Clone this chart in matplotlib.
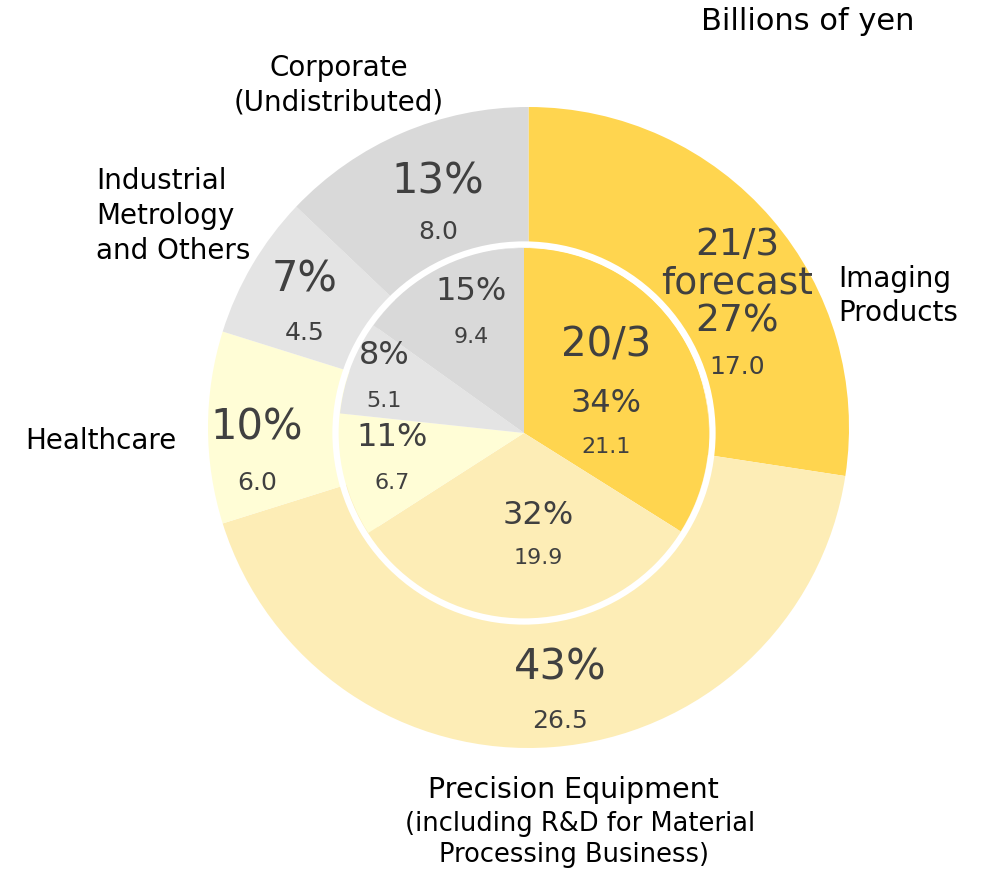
import matplotlib
matplotlib.use("Agg")
import matplotlib.pyplot as plt
from matplotlib.patches import Circle

# ---------------- data ----------------
segments = ["Imaging Products", "Precision Equipment", "Healthcare",
            "Industrial Metrology and Others", "Corporate (Undistributed)"]
forecast_21_3 = [17.0, 26.5, 6.0, 4.5, 8.0]     # outer ring (21/3 forecast)
forecast_pct = ["27%", "43%", "10%", "7%", "13%"]
actual_20_3 = [21.1, 19.9, 6.7, 5.1, 9.4]       # inner pie (20/3)
actual_pct = ["34%", "32%", "11%", "8%", "15%"]
colors = ["#FFD54F", "#FDEDB6", "#FFFDD6", "#E4E4E4", "#D9D9D9"]

W, H = 981, 871
def Y(y):
    return H - y

fig = plt.figure(figsize=(W / 100, H / 100), dpi=100)
ax = fig.add_axes([0, 0, 1, 1])
ax.set_xlim(0, W)
ax.set_ylim(0, H)
ax.set_aspect("equal")
ax.axis("off")

outer_c = (528.5, Y(427.5))
outer_r = 320.5
inner_c = (524, Y(433))
inner_r = 185

ax.pie(forecast_21_3, radius=outer_r, center=outer_c, startangle=90,
       counterclock=False, colors=colors,
       wedgeprops=dict(width=outer_r - 180, linewidth=0))
ax.pie(actual_20_3, radius=inner_r, center=inner_c, startangle=90,
       counterclock=False, colors=colors,
       wedgeprops=dict(linewidth=0))
ax.add_patch(Circle(inner_c, 188.5, fill=False, ec="white", lw=4.5, zorder=5))
ax.set_xlim(0, W)
ax.set_ylim(0, H)

TXT = "#404040"
BIG, MID, SMALL, VAL = 30, 23, 16, 18
LAB = 20

# outer ring labels
ax.text(737, Y(283), "21/3\nforecast\n" + forecast_pct[0], ha="center", va="center",
        fontsize=BIG - 3, color=TXT, linespacing=1.08, zorder=6)
outer_pos = [(737, 367), (560, 668), (257, 428), (305, 279), (438, 181)]
outer_val_pos = [(737, 367), (560, 721), (257, 483), (305, 333), (438, 232)]
for i in range(5):
    if i > 0:
        ax.text(outer_pos[i][0], Y(outer_pos[i][1]), forecast_pct[i], ha="center",
                va="center", fontsize=BIG, color=TXT, zorder=6)
    ax.text(outer_val_pos[i][0], Y(outer_val_pos[i][1]), f"{forecast_21_3[i]:.1f}",
            ha="center", va="center", fontsize=VAL, color=TXT, zorder=6)

# inner pie labels
ax.text(606, Y(346), "20/3", ha="center", va="center", fontsize=BIG - 1, color=TXT, zorder=6)
inner_pos = [(606, 404), (538, 516), (392, 438), (384, 355), (471, 292)]
inner_val_pos = [(606, 447), (538, 558), (392, 483), (384, 401), (471, 337)]
for i in range(5):
    ax.text(inner_pos[i][0], Y(inner_pos[i][1]), actual_pct[i], ha="center",
            va="center", fontsize=MID, color=TXT, zorder=6)
    ax.text(inner_val_pos[i][0], Y(inner_val_pos[i][1]), f"{actual_20_3[i]:.1f}",
            ha="center", va="center", fontsize=SMALL, color=TXT, zorder=6)

# category labels
ax.text(808, Y(22), "Billions of yen", ha="center", va="center", fontsize=22, color="black")
ax.text(339, Y(85), "Corporate\n(Undistributed)", ha="center", va="center",
        fontsize=LAB, color="black", linespacing=1.3)
ax.text(96, Y(216), "Industrial\nMetrology\nand Others", ha="left", va="center",
        fontsize=LAB, color="black", linespacing=1.3)
ax.text(838, Y(296), "Imaging\nProducts", ha="left", va="center",
        fontsize=LAB, color="black", linespacing=1.3)
ax.text(25, Y(441), "Healthcare", ha="left", va="center", fontsize=LAB, color="black")
ax.text(573, Y(790), "Precision Equipment", ha="center", va="center", fontsize=20.5, color="black")
ax.text(580, Y(824), "(including R&D for Material", ha="center",
        va="center", fontsize=18.5, color="black")
ax.text(574, Y(855), "Processing Business)", ha="center",
        va="center", fontsize=18.5, color="black")

fig.savefig("out.png", dpi=100)
